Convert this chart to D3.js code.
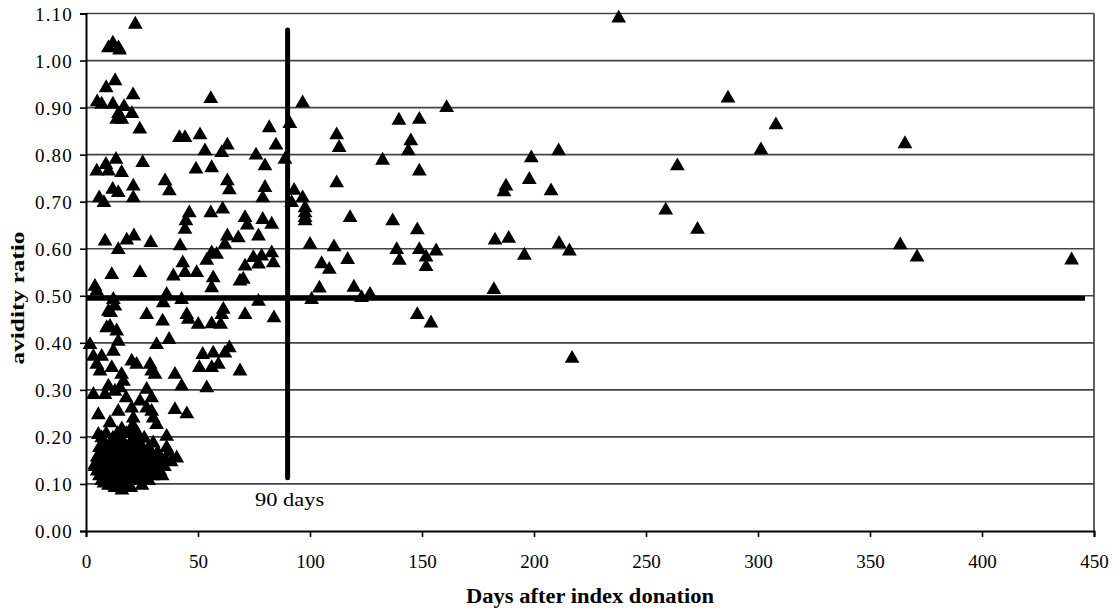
<!DOCTYPE html>
<html>
<head>
<meta charset="utf-8">
<script src="https://cdn.jsdelivr.net/npm/d3@7"></script>
<style>
  html, body { margin: 0; padding: 0; background: #fff; }
  svg { display: block; }
  text { font-family: "Liberation Serif", "Times New Roman", serif; fill: #000; }
</style>
</head>
<body>
<svg id="chart" width="1117" height="612"></svg>
<script>
// ---------- data ----------
const xTicks = [0, 50, 100, 150, 200, 250, 300, 350, 400, 450];
const yTicks = [0, 0.1, 0.2, 0.3, 0.4, 0.5, 0.6, 0.7, 0.8, 0.9, 1.0, 1.1];
const xTitle = "Days after index donation";
const yTitle = "avidity ratio";
const refDayLabel = "90 days";
const refDay = 90;
const refDaySpan = [0.113, 1.065];
const cutoffValue = 0.495;
const cutoffSpan = [0, 446];

// days after index donation
const days = [
  22,10,12,14.5,15,13,9,21,5,7,12,17,14.5,20.5,13.7,16,24,55.7,
  41.7,44.2,50.9,53.1,60.6,63.1,49.1,56.1,63.1,64,75.9,79.9,81.8,84.8,88.8,79.9,78.9,
  25.3,13.4,4.8,8.9,10,15.9,35.3,37.2,11.9,14.4,21.1,21.1,5.9,8,
  8.5,18.2,14.4,21.4,28.9,42,46.1,44.6,44.2,55.7,61,71,72,78.9,82.9,
  63.1,68,77,62,56.1,58.3,53.9,43.2,11.5,24.1,39,49.4,44.2,
  56.8,68.75,70.2,56.1,74.7,77,82.9,83.6,71,78.4,
  77,61.3,60.6,50.1,56.1,60.1,71,83.9,45,45.7,
  64,62,52.1,56.8,50.6,56.1,59.1,68.75,53.9,
  4,4.8,12.2,36,42.7,34.5,27.1,34.2,10,12.9,10.7,13.7,14.4,31.5,37.1,1.8,3.3,7,12.2,
  4.8,6.25,11.5,20.4,22.6,28.6,29.3,30.8,39.7,42.7,15.9,16.7,10,3.3,8.5,12.9,17.9,
  27.1,29.3,24.1,20.4,27.1,29.3,39.7,45,5.5,14.4,10.7,21.1,30,31.5,21.1,5.5,7,11.5,36,
  5.5,40.5,35.3,31.5,4,12.9,11,9.2,15.2,
  // dense early cluster
  4,5,5,6,6,6,7,7,7,8,8,8,8,9,9,9,9,9,10,10,10,10,10,11,11,11,11,
  12,12,12,12,12,12,13,13,13,13,13,14,14,14,14,14,14,15,15,15,15,15,
  16,16,16,16,16,16,17,17,17,17,18,18,18,18,18,18,19,19,19,19,
  20,20,20,20,20,21,21,21,21,22,22,22,23,23,23,23,24,24,24,25,25,25,
  26,26,26,27,27,27,28,28,29,29,30,30,31,32,33,
  30,33,35,38,32,36,28,25,20,16,8,34,37,26,
  // later follow-up
  96.7,91,111.9,113,139.7,148.8,161,145,143.9,132.4,148.8,111.9,92.9,96.7,91.8,
  97.8,97.8,97.8,97.8,117.9,136.9,147.9,100,110.7,116.8,105.2,108.6,104.2,100.7,
  119.6,123,126.8,138.7,139.9,148.8,151.8,151.8,156.3,182.6,188.7,195.7,211.2,215.8,
  182.1,147.9,154,217,198.8,211,197.9,187.5,186.6,207.6,237.8,258.8,273,264,286.6,
  308,301.3,365.6,363.5,371,440
];

// avidity ratio
const ratios = [
  1.08,1.03,1.04,1.03,1.025,0.96,0.945,0.93,0.915,0.91,0.91,0.905,0.89,0.89,0.878,0.878,0.857,0.922,
  0.839,0.839,0.845,0.811,0.807,0.823,0.772,0.775,0.747,0.728,0.802,0.779,0.86,0.823,0.793,0.733,0.711,
  0.786,0.793,0.768,0.782,0.768,0.765,0.747,0.726,0.729,0.722,0.736,0.711,0.711,0.701,
  0.619,0.621,0.601,0.63,0.616,0.609,0.679,0.662,0.644,0.679,0.687,0.669,0.653,0.665,0.655,
  0.63,0.626,0.63,0.612,0.594,0.591,0.578,0.573,0.548,0.552,0.545,0.552,0.552,
  0.541,0.534,0.538,0.52,0.584,0.57,0.594,0.573,0.566,0.587,
  0.491,0.474,0.463,0.442,0.443,0.442,0.463,0.456,0.463,0.453,
  0.392,0.381,0.378,0.381,0.35,0.35,0.357,0.343,0.307,
  0.523,0.513,0.495,0.506,0.495,0.488,0.463,0.449,0.47,0.481,0.438,0.428,0.406,0.399,0.41,0.399,0.374,0.374,0.385,
  0.357,0.343,0.35,0.364,0.357,0.357,0.343,0.336,0.336,0.311,0.336,0.321,0.311,0.293,0.293,0.3,0.286,
  0.304,0.286,0.279,0.264,0.264,0.257,0.261,0.252,0.25,0.257,0.233,0.243,0.243,0.229,0.226,0.208,0.201,0.194,0.204,
  0.158,0.158,0.155,0.144,0.144,0.095,0.467,0.435,0.307,
  // dense early cluster
  0.14,0.13,0.16,0.12,0.15,0.18,0.11,0.14,0.17,0.12,0.13,0.16,0.19,0.11,0.14,0.15,0.18,0.21,0.10,0.12,0.13,0.16,0.17,0.11,0.14,0.15,0.19,
  0.10,0.12,0.13,0.16,0.18,0.20,0.095,0.11,0.14,0.15,0.17,0.10,0.12,0.13,0.16,0.19,0.21,0.11,0.14,0.15,0.17,0.20,
  0.10,0.12,0.13,0.16,0.18,0.22,0.11,0.14,0.15,0.19,0.10,0.12,0.13,0.16,0.17,0.21,0.11,0.14,0.15,0.18,
  0.12,0.13,0.16,0.19,0.22,0.11,0.14,0.17,0.20,0.12,0.15,0.18,0.11,0.13,0.16,0.21,0.14,0.17,0.19,0.12,0.15,0.18,
  0.13,0.16,0.20,0.12,0.14,0.17,0.15,0.18,0.13,0.16,0.14,0.19,0.15,0.17,0.16,
  0.12,0.13,0.14,0.15,0.16,0.18,0.11,0.10,0.095,0.09,0.105,0.12,0.17,0.11,
  // later follow-up
  0.913,0.869,0.845,0.818,0.876,0.878,0.903,0.832,0.811,0.791,0.768,0.743,0.727,0.711,0.701,
  0.69,0.679,0.669,0.662,0.669,0.662,0.643,0.612,0.607,0.58,0.571,0.559,0.519,0.495,
  0.521,0.499,0.506,0.601,0.578,0.601,0.585,0.565,0.598,0.621,0.625,0.589,0.614,0.598,
  0.516,0.463,0.445,0.37,0.796,0.811,0.75,0.736,0.724,0.726,1.093,0.685,0.644,0.779,0.923,
  0.866,0.813,0.826,0.611,0.585,0.579
];

// ---------- layout ----------
const svg = d3.select("#chart");
const x = d3.scaleLinear().domain([0, 450]).range([86, 1094]);
const y = d3.scaleLinear().domain([0, 1.1]).range([531, 13.5]);

// gridlines
svg.append("g")
  .selectAll("line")
  .data(yTicks.filter(d => d > 0))
  .join("line")
  .attr("x1", x(0)).attr("x2", x(450))
  .attr("y1", d => y(d)).attr("y2", d => y(d))
  .attr("stroke", "#444").attr("stroke-width", 1.7);

// right border
svg.append("line")
  .attr("x1", x(450)).attr("x2", x(450))
  .attr("y1", y(1.1)).attr("y2", y(0))
  .attr("stroke", "#444").attr("stroke-width", 1.7);

// axes
const yAxis = d3.axisLeft(y).tickValues(yTicks).tickFormat(d3.format(".2f")).tickSize(6).tickPadding(7);
const gy = svg.append("g").attr("transform", `translate(${x(0)},0)`).call(yAxis);
gy.select(".domain").attr("stroke", "#000").attr("stroke-width", 2);
gy.selectAll(".tick line").attr("stroke", "#000").attr("stroke-width", 1.6);
gy.selectAll(".tick text")
  .style("font-family", '"Liberation Serif", serif')
  .style("font-size", "19px")
  .style("letter-spacing", "1.2px")
  .attr("dy", "0.35em");

const xAxis = d3.axisBottom(x).tickValues(xTicks).tickFormat(d3.format("d")).tickSize(6).tickPadding(18);
const gx = svg.append("g").attr("transform", `translate(0,${y(0)})`).call(xAxis);
gx.select(".domain").attr("stroke", "#000").attr("stroke-width", 2);
gx.selectAll(".tick line").attr("stroke", "#000").attr("stroke-width", 1.6);
gx.selectAll(".tick text")
  .style("font-family", '"Liberation Serif", serif')
  .style("font-size", "19px");

// points
const points = days.map((d, i) => ({ day: d, ratio: ratios[i] }));
const tri = d3.symbol().type(d3.symbolTriangle).size(95);
svg.append("g")
  .selectAll("path")
  .data(points)
  .join("path")
  .attr("d", tri)
  .attr("transform", d => `translate(${x(d.day)},${y(d.ratio) + 1.5})`)
  .attr("fill", "#000");

// reference lines
svg.append("line")
  .attr("x1", x(cutoffSpan[0])).attr("x2", x(cutoffSpan[1]))
  .attr("y1", y(cutoffValue)).attr("y2", y(cutoffValue))
  .attr("stroke", "#000").attr("stroke-width", 5);
svg.append("line")
  .attr("x1", x(refDay)).attr("x2", x(refDay))
  .attr("y1", y(refDaySpan[0])).attr("y2", y(refDaySpan[1]))
  .attr("stroke", "#000").attr("stroke-width", 5).attr("stroke-linecap", "round");

svg.append("text")
  .attr("x", x(refDay) + 2).attr("y", 506)
  .attr("text-anchor", "middle")
  .style("font-size", "19px")
  .attr("textLength", 69).attr("lengthAdjust", "spacingAndGlyphs")
  .text(refDayLabel);

// titles
svg.append("text")
  .attr("x", 590).attr("y", 603)
  .attr("text-anchor", "middle")
  .style("font-size", "20px").style("font-weight", "bold")
  .attr("textLength", 248).attr("lengthAdjust", "spacingAndGlyphs")
  .text(xTitle);

svg.append("text")
  .attr("transform", "translate(24,298) rotate(-90)")
  .attr("text-anchor", "middle")
  .style("font-size", "19px").style("font-weight", "bold")
  .attr("textLength", 133).attr("lengthAdjust", "spacingAndGlyphs")
  .text(yTitle);
</script>
</body>
</html>
